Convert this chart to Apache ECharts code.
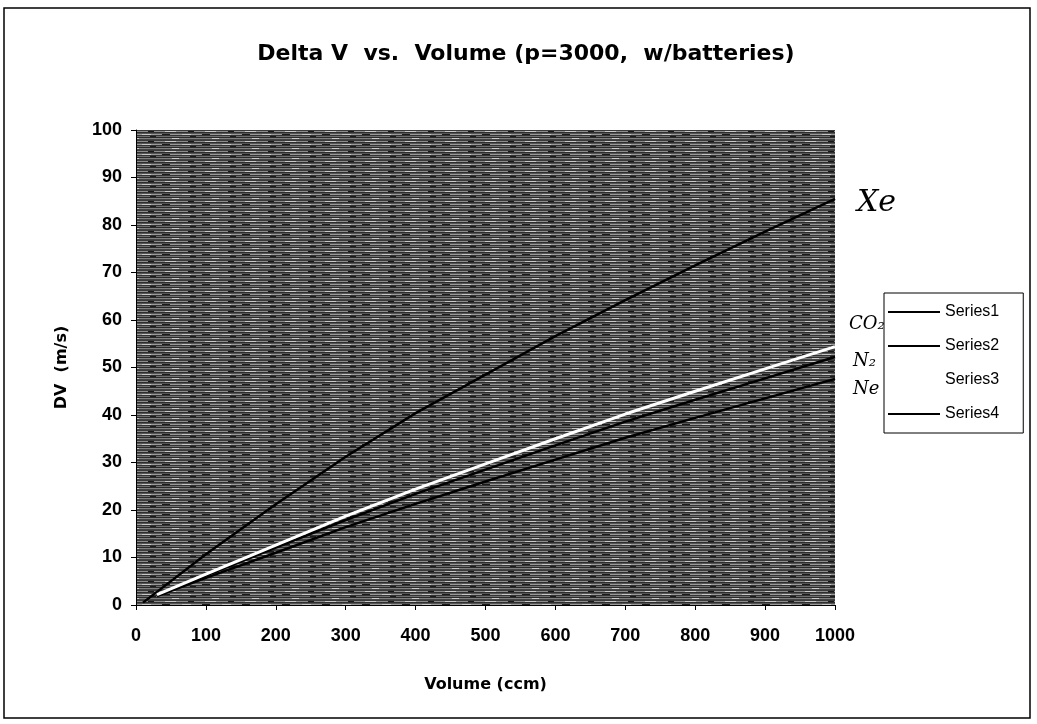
<!DOCTYPE html>
<html>
<head>
<meta charset="utf-8">
<script src="https://cdn.jsdelivr.net/npm/echarts@6/dist/echarts.min.js"></script>
<style>
  html, body { margin: 0; padding: 0; background: #fff; }
  #chart { width: 1037px; height: 724px; }
</style>
</head>
<body>
<div id="chart"></div>
<script>
// volumes (ccm)
const xeVolume = [10, 100, 200, 300, 400, 500, 600, 700, 800, 900, 1000];
const gasVolume = [30, 100, 200, 300, 400, 500, 600, 700, 800, 900, 1000];

// delta V (m/s)
const xeDV = [0.5, 10.7, 21.2, 31.2, 40.4, 48.5, 56.6, 64.2, 71.5, 78.6, 85.5];
const n2DV = [2.1, 6.2, 12.1, 17.9, 23.4, 28.5, 33.6, 38.6, 43.2, 47.7, 52.2];
const co2DV = [2.2, 6.5, 12.6, 18.7, 24.4, 29.7, 35.0, 40.2, 45.0, 49.7, 54.4];
const neDV = [1.9, 5.7, 11.0, 16.4, 21.3, 26.0, 30.6, 35.2, 39.4, 43.5, 47.6];

const seriesNames = ['Series1', 'Series2', 'Series3', 'Series4'];
const gasLabels = ['Xe', 'N₂', 'CO₂', 'Ne'];

const pairs = (xs, ys) => xs.map((x, i) => [x, ys[i]]);

// scanned-looking striped plot background
function stripes() {
    const c = document.createElement('canvas');
    c.width = 40; c.height = 10;
    const g = c.getContext('2d');
    const rows = ['#3a3a3a', '#8c8c8c', '#2e2e2e', '#555', '#9a9a9a', '#333', '#6e6e6e', '#2a2a2a', '#808080', '#444'];
    rows.forEach((col, i) => { g.fillStyle = col; g.fillRect(0, i, 40, 1); });
    g.fillStyle = '#c8c8c8'; g.fillRect(5, 1, 11, 1); g.fillRect(22, 4, 9, 1); g.fillRect(12, 8, 7, 1);
    g.fillStyle = '#1a1a1a'; g.fillRect(28, 1, 6, 1); g.fillRect(2, 4, 8, 1); g.fillRect(30, 6, 6, 1);
    return c;
}

const font = '"Liberation Sans", Arial, sans-serif';
const wide = '"DejaVu Sans", sans-serif';
const hand = '"DejaVu Serif", serif';

const myChart = echarts.init(document.getElementById('chart'));

const lineSeries = (name, data, color, width, label, offset) => ({
    name: name,
    type: 'line',
    data: data,
    showSymbol: false,
    symbol: 'none',
    lineStyle: { color: color, width: width },
    itemStyle: { color: color },
    endLabel: {
        show: true,
        formatter: label,
        color: '#000',
        fontFamily: hand,
        fontStyle: 'italic',
        fontSize: label === 'Xe' ? 30 : 18,
        offset: offset
    },
    z: color === '#fff' ? 3 : 2
});

const option = {
    animation: false,
    backgroundColor: '#fff',
    title: {
        text: 'Delta V  vs.  Volume (p=3000,  w/batteries)',
        left: 521,
        textAlign: 'center',
        top: 38,
        textStyle: { fontFamily: wide, fontWeight: 'bold', fontSize: 22, color: '#000' }
    },
    grid: {
        left: 136, right: 202, top: 130, bottom: 119,
        show: true,
        backgroundColor: { image: stripes(), repeat: 'repeat' },
        borderWidth: 0
    },
    legend: {
        orient: 'vertical',
        left: 884,
        top: 293,
        data: seriesNames,
        icon: 'rect',
        itemWidth: 52,
        itemHeight: 2,
        itemGap: 18,
        padding: [11, 24, 11, 4],
        borderColor: '#000',
        borderWidth: 1,
        textStyle: { fontFamily: font, fontSize: 16, color: '#000' }
    },
    xAxis: {
        type: 'value',
        min: 0, max: 1000, interval: 100,
        name: 'Volume (ccm)',
        nameLocation: 'middle',
        nameGap: 72,
        nameTextStyle: { fontFamily: wide, fontWeight: 'bold', fontSize: 16, color: '#000' },
        axisLine: { show: true, lineStyle: { color: '#000', width: 1 } },
        axisTick: { show: true, length: 5, lineStyle: { color: '#000' } },
        axisLabel: {
            fontFamily: font, fontWeight: 'bold', fontSize: 18, color: '#000', margin: 22,
            formatter: v => String(v)
        },
        splitLine: { show: false }
    },
    yAxis: {
        type: 'value',
        min: 0, max: 100, interval: 10,
        name: 'DV  (m/s)',
        nameLocation: 'middle',
        nameGap: 66,
        nameRotate: 90,
        nameTextStyle: { fontFamily: wide, fontWeight: 'bold', fontSize: 16, color: '#000' },
        axisLine: { show: true, lineStyle: { color: '#000', width: 1 } },
        axisTick: { show: true, length: 5, lineStyle: { color: '#000' } },
        axisLabel: { fontFamily: font, fontWeight: 'bold', fontSize: 18, color: '#000', margin: 14 },
        splitLine: { show: false }
    },
    graphic: [{
        type: 'rect',
        shape: { x: 4, y: 8, width: 1026, height: 710 },
        style: { fill: 'none', stroke: '#000', lineWidth: 1.5 },
        silent: true
    }],
    series: [
        lineSeries(seriesNames[0], pairs(xeVolume, xeDV), '#000', 2.5, gasLabels[0], [14, 4]),
        lineSeries(seriesNames[1], pairs(gasVolume, n2DV), '#000', 2.5, gasLabels[1], [10, 4]),
        lineSeries(seriesNames[2], pairs(gasVolume, co2DV), '#fff', 3, gasLabels[2], [6, -22]),
        lineSeries(seriesNames[3], pairs(gasVolume, neDV), '#000', 2.5, gasLabels[3], [10, 10])
    ]
};

myChart.setOption(option);
</script>
</body>
</html>
